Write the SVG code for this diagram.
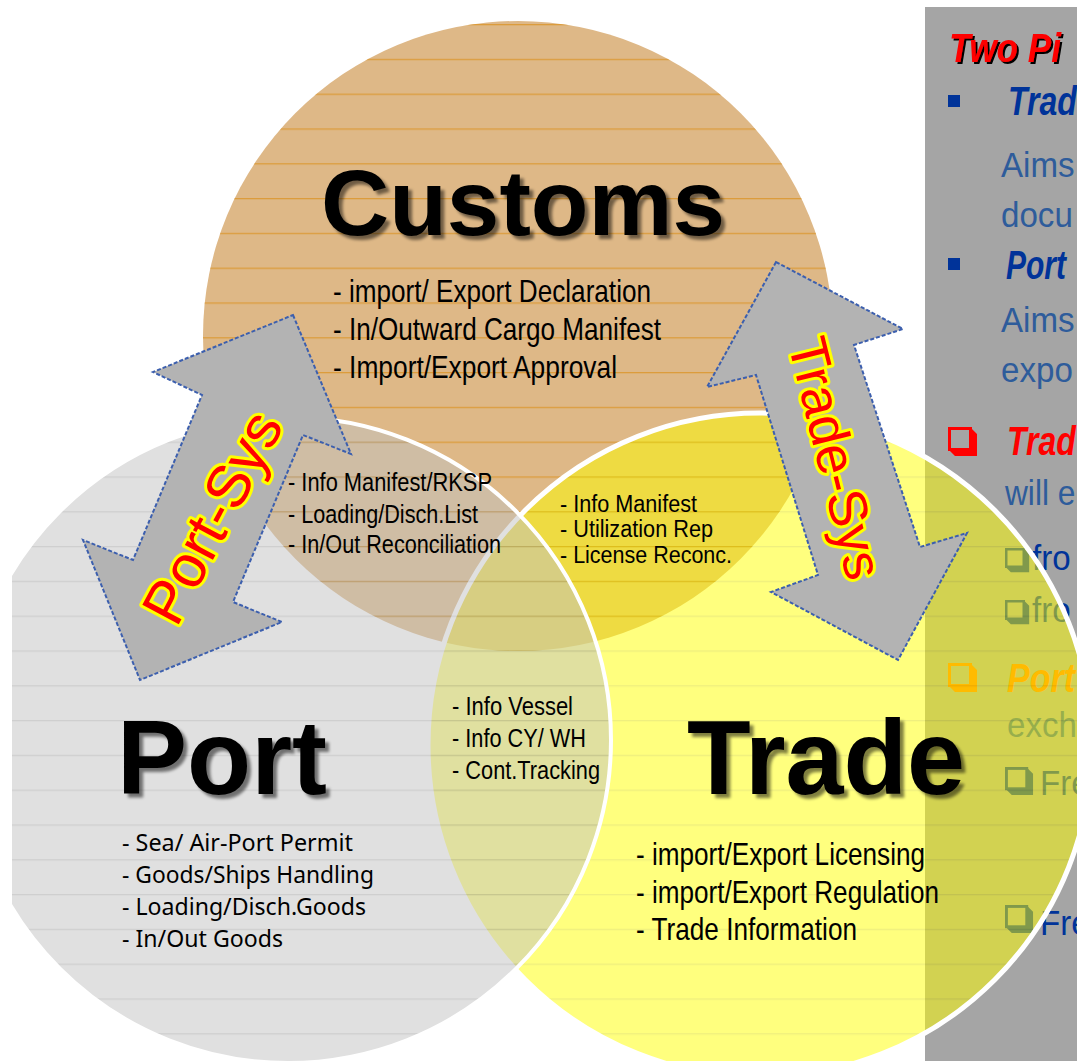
<svg xmlns="http://www.w3.org/2000/svg" width="1077" height="1061" viewBox="0 0 1077 1061">
<style>
.t{font-family:"Liberation Sans",Arial,sans-serif;fill:#000}
.n{font-family:"Liberation Sans Narrow","Arial Narrow","Liberation Sans",Arial,sans-serif;fill:#000}
.title{font-weight:bold;filter:url(#sh)}
.item{font-size:32px}
.lens{font-size:26px}
.lens2{font-size:23px}
.pitem{font-family:"Noto Sans","Open Sans","DejaVu Sans",sans-serif;font-size:23px;fill:#000}
.lbl{font-family:"Liberation Sans",Arial,sans-serif;fill:#ff0000;stroke:#ffff00;stroke-width:6px;stroke-linejoin:round;paint-order:stroke}
.arrow{fill:#b3b3b3;stroke:#3c5fae;stroke-width:2;stroke-dasharray:4 2;stroke-linejoin:miter}
.ph{font-family:"Liberation Sans",Arial,sans-serif;font-weight:bold;font-style:italic;font-size:40px}
.pb{font-family:"Liberation Sans",Arial,sans-serif;font-size:36px;fill:#2e5c9b}
.nv{font-family:"Liberation Sans",Arial,sans-serif;font-size:36px;fill:#003399}
</style>
<defs>
<pattern id="lc" patternUnits="userSpaceOnUse" width="20" height="34.8" y="24"><rect width="20" height="1.3" fill="#dc9c3c"/></pattern>
<pattern id="lp" patternUnits="userSpaceOnUse" width="20" height="34.8" y="24"><rect width="20" height="1.3" fill="#a0a0a0"/></pattern>
<pattern id="lt" patternUnits="userSpaceOnUse" width="20" height="34.8" y="24"><rect width="20" height="1.3" fill="#e0e000"/></pattern>
<clipPath id="clipL"><rect x="12" y="0" width="1065" height="1061"/></clipPath>
<filter id="sh" x="-5%" y="-15%" width="115%" height="140%">
<feGaussianBlur in="SourceAlpha" stdDeviation="1.8"/>
<feOffset dx="4" dy="4"/>
<feComponentTransfer><feFuncA type="linear" slope="0.5"/></feComponentTransfer>
<feMerge><feMergeNode/><feMergeNode in="SourceGraphic"/></feMerge>
</filter>
<filter id="sh2" x="-5%" y="-15%" width="115%" height="140%">
<feOffset in="SourceAlpha" dx="2" dy="2"/>
<feMerge><feMergeNode/><feMergeNode in="SourceGraphic"/></feMerge>
</filter>
<symbol id="chk" viewBox="0 0 30 30">
<rect x="1.5" y="1.5" width="21" height="21" fill="none" stroke="currentColor" stroke-width="3"/>
<polygon points="23,1 29,7 29,29 7,29 1,23 23,23" fill="currentColor"/>
</symbol>
</defs>

<rect width="1077" height="1061" fill="#ffffff"/>

<g id="panel">
<rect x="925" y="7" width="152" height="1054" fill="#a5a5a5"/>
<text class="ph" font-size="44" fill="#ff0000" filter="url(#sh2)" transform="translate(949,62) scale(0.88,1)">Two Pi</text>
<rect x="948" y="95" width="12" height="12" fill="#003399"/>
<text class="ph" fill="#003399" transform="translate(1008,115) scale(0.8,1)">Trad</text>
<text class="pb" transform="translate(1001,177) scale(0.92,1)">Aims</text>
<text class="pb" transform="translate(1001,227) scale(0.92,1)">docu</text>
<rect x="948" y="258" width="12" height="12" fill="#003399"/>
<text class="ph" fill="#003399" transform="translate(1006,279) scale(0.75,1)">Port</text>
<text class="pb" transform="translate(1001,332) scale(0.92,1)">Aims</text>
<text class="pb" transform="translate(1001,382) scale(0.92,1)">expo</text>
<use href="#chk" x="948" y="427" width="30" height="30" color="#ff0000"/>
<text class="ph" fill="#ff0000" transform="translate(1007,455) scale(0.8,1)">Trad</text>
<text class="pb" transform="translate(1005,505) scale(0.88,1)">will e</text>
<use href="#chk" x="1005" y="548" width="25" height="25" color="#003399"/>
<text class="nv" transform="translate(1032,570) scale(0.92,1)">fro</text>
<use href="#chk" x="1005" y="600" width="25" height="25" color="#003399"/>
<text class="nv" transform="translate(1032,622) scale(0.92,1)">fro</text>
<use href="#chk" x="948" y="663" width="30" height="30" color="#ff7700"/>
<text class="ph" fill="#ff7700" transform="translate(1007,692) scale(0.85,1)">Port</text>
<text class="pb" transform="translate(1007,737) scale(0.92,1)">exch</text>
<use href="#chk" x="1005" y="767" width="29" height="29" color="#003399"/>
<text class="nv" transform="translate(1040,795) scale(0.92,1)">Fre</text>
<use href="#chk" x="1005" y="905" width="29" height="29" color="#003399"/>
<text class="nv" transform="translate(1040,935) scale(0.92,1)">Fre</text>
</g>

<g id="customs">
<circle cx="518" cy="336" r="315" fill="#deb887"/>
<circle cx="518" cy="336" r="315" fill="url(#lc)"/>
<text class="t title" x="321" y="235" font-size="92" textLength="404" lengthAdjust="spacingAndGlyphs">Customs</text>
<text class="n item" x="333" y="302" textLength="318" lengthAdjust="spacingAndGlyphs">- import/ Export Declaration</text>
<text class="n item" x="333" y="340" textLength="328" lengthAdjust="spacingAndGlyphs">- In/Outward Cargo Manifest</text>
<text class="n item" x="333" y="378" textLength="284" lengthAdjust="spacingAndGlyphs">- Import/Export Approval</text>
</g>

<g id="trade">
<g opacity="0.5">
<circle cx="760" cy="745" r="332" fill="#ffff00"/>
<circle cx="760" cy="745" r="332" fill="url(#lt)"/>
</g>
<circle cx="760" cy="745" r="332" fill="none" stroke="#ffffff" stroke-width="5"/>
<text class="t title" x="687" y="794" font-size="106" textLength="278" lengthAdjust="spacingAndGlyphs">Trade</text>
<text class="n item" x="636" y="865" textLength="289" lengthAdjust="spacingAndGlyphs">- import/Export Licensing</text>
<text class="n item" x="636" y="903" textLength="303" lengthAdjust="spacingAndGlyphs">- import/Export Regulation</text>
<text class="n item" x="636" y="940" textLength="221" lengthAdjust="spacingAndGlyphs">- Trade Information</text>
</g>

<g id="port">
<g clip-path="url(#clipL)">
<g opacity="0.5">
<circle cx="288" cy="740" r="323" fill="#c2c2c2"/>
<circle cx="288" cy="740" r="323" fill="url(#lp)"/>
</g>
<circle cx="288" cy="740" r="323" fill="none" stroke="#ffffff" stroke-width="4"/>
</g>
<text class="t title" x="117" y="794" font-size="106" textLength="210" lengthAdjust="spacingAndGlyphs">Port</text>
<text class="pitem" x="122" y="851" textLength="231" lengthAdjust="spacingAndGlyphs">- Sea/ Air-Port Permit</text>
<text class="pitem" x="122" y="883" textLength="252" lengthAdjust="spacingAndGlyphs">- Goods/Ships Handling</text>
<text class="pitem" x="122" y="915" textLength="244" lengthAdjust="spacingAndGlyphs">- Loading/Disch.Goods</text>
<text class="pitem" x="122" y="947" textLength="161" lengthAdjust="spacingAndGlyphs">- In/Out Goods</text>
</g>

<g id="connectors">
<g id="port-sys">
<polygon class="arrow" points="293,315 351,454 303,435 233,602 282,622 140,680 83,540 133,560 202,395 153,372"/>
<text class="lbl" font-size="60" text-anchor="middle" transform="translate(212,517) rotate(-62)" dy="21">Port-Sys</text>
</g>
<g id="trade-sys">
<polygon class="arrow" points="776,262 903,329 854,345 920,547 967,533 898,660 771,592 818,575 756,375 707,387"/>
<text class="lbl" font-size="54" text-anchor="middle" transform="translate(836,458) rotate(76)" dy="19">Trade-Sys</text>
</g>
</g>

<g id="lens-customs-port">
<text class="n lens" x="288" y="491" textLength="204" lengthAdjust="spacingAndGlyphs">- Info Manifest/RKSP</text>
<text class="n lens" x="288" y="523" textLength="190" lengthAdjust="spacingAndGlyphs">- Loading/Disch.List</text>
<text class="n lens" x="288" y="553" textLength="213" lengthAdjust="spacingAndGlyphs">- In/Out Reconciliation</text>
</g>
<g id="lens-customs-trade">
<text class="n lens2" x="560" y="512" textLength="137" lengthAdjust="spacingAndGlyphs">- Info Manifest</text>
<text class="n lens2" x="560" y="537" textLength="153" lengthAdjust="spacingAndGlyphs">- Utilization Rep</text>
<text class="n lens2" x="560" y="563" textLength="172" lengthAdjust="spacingAndGlyphs">- License Reconc.</text>
</g>
<g id="lens-port-trade">
<text class="n lens" x="452" y="715" textLength="121" lengthAdjust="spacingAndGlyphs">- Info Vessel</text>
<text class="n lens" x="452" y="747" textLength="134" lengthAdjust="spacingAndGlyphs">- Info CY/ WH</text>
<text class="n lens" x="452" y="779" textLength="148" lengthAdjust="spacingAndGlyphs">- Cont.Tracking</text>
</g>
</svg>
